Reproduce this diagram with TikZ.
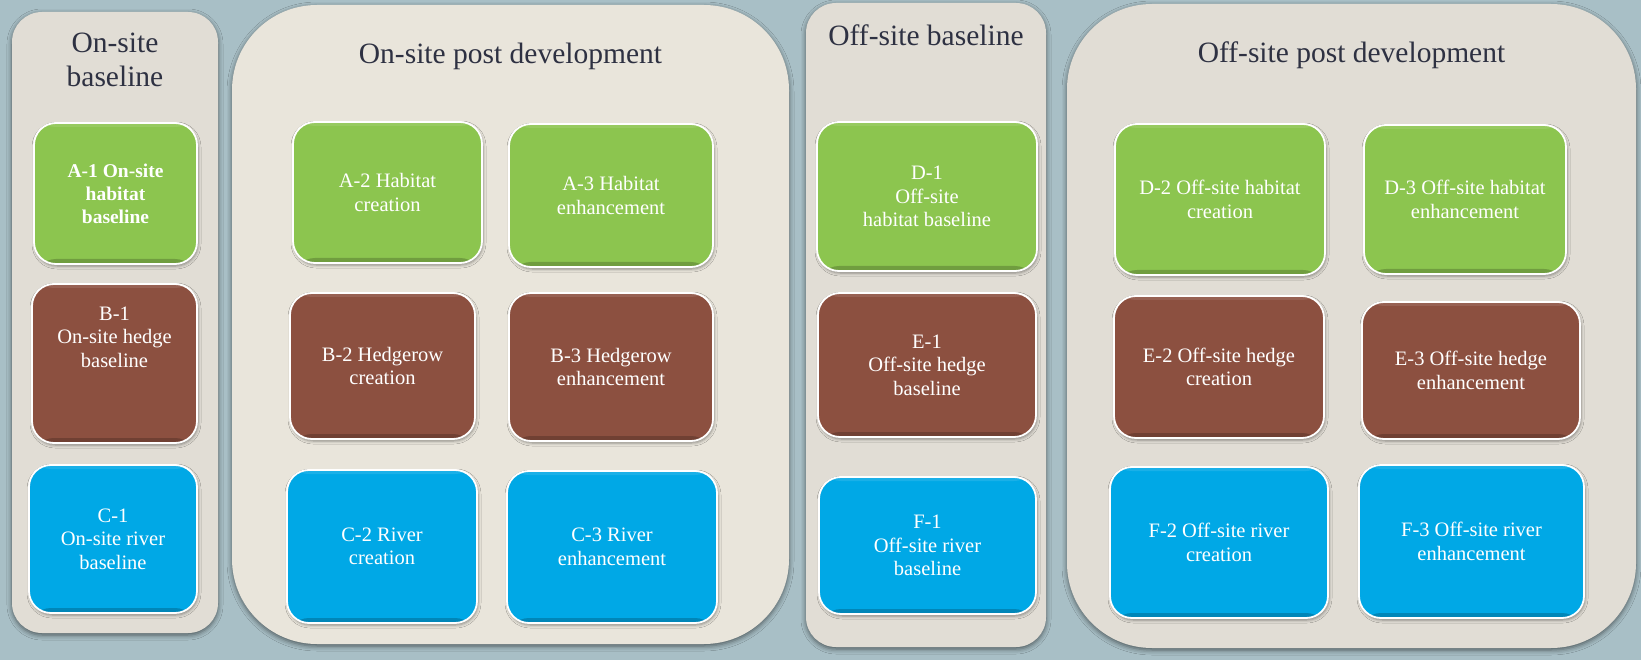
\documentclass[tikz,border=0pt]{standalone}
\usepackage{fontspec}
\setmainfont{Liberation Serif}
\usetikzlibrary{shadows.blur,calc}
\definecolor{bg}{HTML}{A8BFC6}
\definecolor{panelA}{HTML}{E1DDD5}
\definecolor{panelB}{HTML}{E9E5DB}
\definecolor{hab}{HTML}{8CC54F}
\definecolor{hedge}{HTML}{8C5040}
\definecolor{river}{HTML}{00A8E6}
\definecolor{ttl}{HTML}{2E3142}
\tikzset{
  panel/.style={rectangle, draw=none, inner sep=0pt,
    blur shadow={shadow xshift=0pt, shadow yshift=-2pt, shadow blur radius=5pt, shadow opacity=55}},
  box/.style={rectangle, rounded corners=22pt, draw=white, line width=1.8pt, text=white,
    align=center, inner sep=0pt, font=\fontsize{20.5}{23.5}\selectfont,
    blur shadow={shadow xshift=1pt, shadow yshift=-2pt, shadow blur radius=3pt, shadow opacity=40},
    path picture={
      \fill[black, opacity=0.2] (path picture bounding box.south west) rectangle ([yshift=5pt]path picture bounding box.south east);
      \fill[white, opacity=0.1] (path picture bounding box.north west) rectangle ([yshift=-4pt]path picture bounding box.north east);
    }},
  boxtext/.style={text=white, align=center, inner sep=0pt, font=\fontsize{20.5}{23.5}\selectfont},
  title/.style={text=ttl, align=center, inner sep=0pt, font=\fontsize{29.5}{34}\selectfont}
}
\begin{document}
\begin{tikzpicture}[x=1pt,y=-1pt]
\useasboundingbox (0,0) rectangle (1641,660);
\fill[bg] (0,0) rectangle (1641,660);

% panels
\node[panel, fill=panelA, rounded corners=30pt, minimum width=206pt, minimum height=621pt] (p1) at (115,322.5) {};
\node[panel, fill=panelB, rounded corners=85pt, minimum width=557pt, minimum height=639pt] (p2) at (510.5,324.5) {};
\node[panel, fill=panelA, rounded corners=30pt, minimum width=240pt, minimum height=644pt] (p3) at (926,325) {};
\node[panel, fill=panelA, rounded corners=85pt, minimum width=569pt, minimum height=644pt] (p4) at (1351.5,326) {};

% titles
\node[title] (t1) at (115,60) {On-site\\baseline};
\node[title, anchor=base] (t2) at (510.5,64) {On-site post development};
\node[title, anchor=base] (t3) at (926,46) {Off-site baseline};
\node[title, anchor=base] (t4) at (1351.5,63) {Off-site post development};

% on-site baseline
\node[box, fill=hab, minimum width=163pt, minimum height=141pt,
      font=\bfseries\fontsize{19.5}{23}\selectfont] (a1) at (115.5,193.5) {A-1 On-site\\habitat\\baseline};
\node[box, fill=hedge, minimum width=165pt, minimum height=159pt] (b1) at (114.5,363.5) {};
\node[boxtext] (b1t) at (114.5,337) {B-1\\On-site hedge\\baseline};
\node[box, fill=river, minimum width=168pt, minimum height=148pt] (c1) at (113,539) {C-1\\On-site river\\baseline};

% on-site post development
\node[box, fill=hab, minimum width=189pt, minimum height=141pt] (a2) at (387.5,192.5) {A-2 Habitat\\creation};
\node[box, fill=hedge, minimum width=185pt, minimum height=146pt] (b2) at (382.5,366) {B-2 Hedgerow\\creation};
\node[box, fill=river, minimum width=190pt, minimum height=153pt] (c2) at (382,546.5) {C-2 River\\creation};
\node[box, fill=hab, minimum width=204pt, minimum height=143pt] (a3) at (611,195.5) {A-3 Habitat\\enhancement};
\node[box, fill=hedge, minimum width=204pt, minimum height=148pt] (b3) at (611,367) {B-3 Hedgerow\\enhancement};
\node[box, fill=river, minimum width=210pt, minimum height=152pt] (c3) at (612,547) {C-3 River\\enhancement};

% off-site baseline
\node[box, fill=hab, minimum width=220pt, minimum height=149pt] (d1) at (927,196.5) {D-1\\Off-site\\habitat baseline};
\node[box, fill=hedge, minimum width=218pt, minimum height=144pt] (e1) at (927,365) {E-1\\Off-site hedge\\baseline};
\node[box, fill=river, minimum width=217pt, minimum height=137pt] (f1) at (927.5,545.5) {F-1\\Off-site river\\baseline};

% off-site post development
\node[box, fill=hab, minimum width=210pt, minimum height=151pt] (d2) at (1220,199.5) {D-2 Off-site habitat\\creation};
\node[box, fill=hedge, minimum width=210pt, minimum height=142pt] (e2) at (1219,367) {E-2 Off-site hedge\\creation};
\node[box, fill=river, minimum width=218pt, minimum height=151pt] (f2) at (1219,542.5) {F-2 Off-site river\\creation};
\node[box, fill=hab, minimum width=202pt, minimum height=149pt] (d3) at (1465,199.5) {D-3 Off-site habitat\\enhancement};
\node[box, fill=hedge, minimum width=218pt, minimum height=137pt] (e3) at (1471,370.5) {E-3 Off-site hedge\\enhancement};
\node[box, fill=river, minimum width=225pt, minimum height=153pt] (f3) at (1471.5,541.5) {F-3 Off-site river\\enhancement};
\end{tikzpicture}
\end{document}
